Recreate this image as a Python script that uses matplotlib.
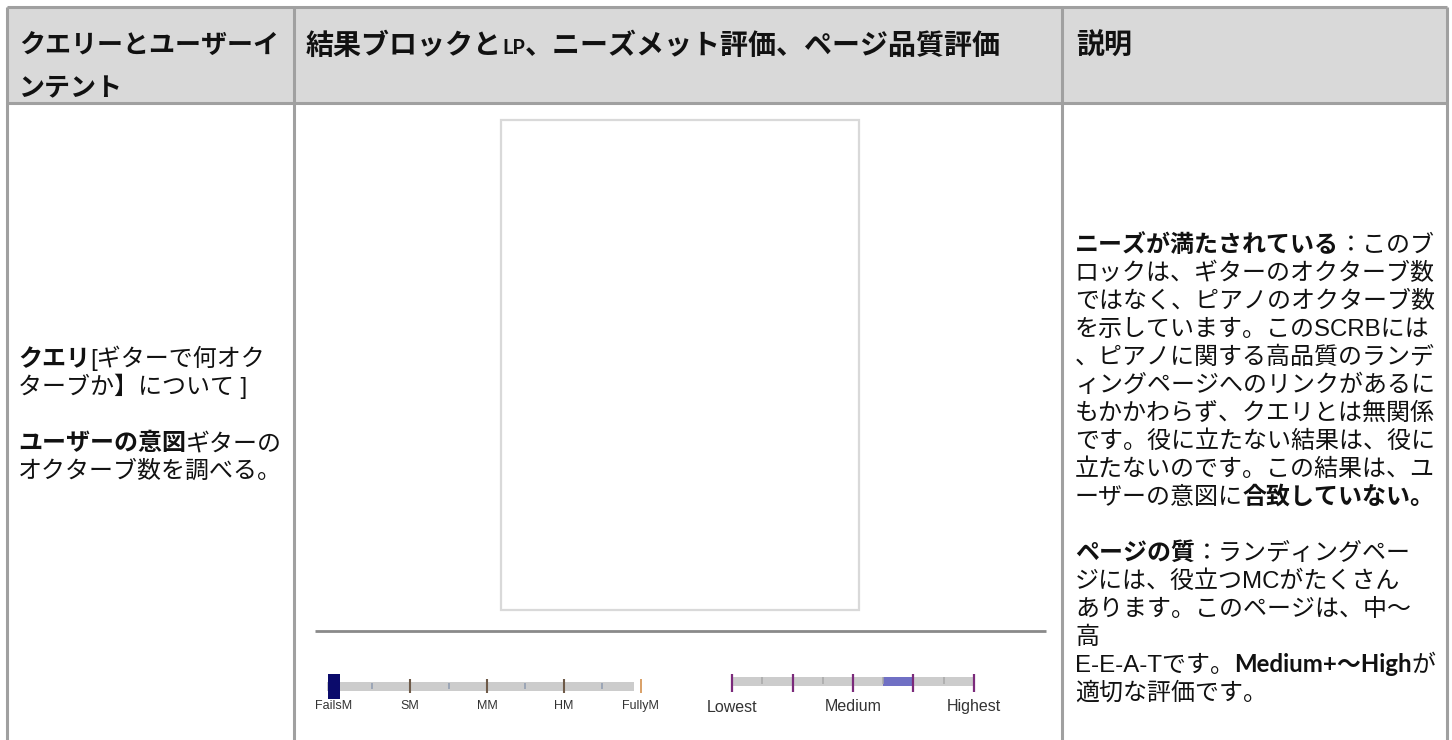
import matplotlib
matplotlib.use("Agg")
import matplotlib.pyplot as plt
from matplotlib.patches import Rectangle

W, H, DPI = 1452, 740, 100
PX = 72.0 / DPI  # points per pixel

# ---------------- data ----------------
header_col1 = ["クエリーとユーザーイ", "ンテント"]
header_col2 = [("結果ブロックと", "hb2"), ("LP", "hlp"), ("、ニーズメット評価、ページ品質評価", "hb2")]
header_col3 = "説明"

left_lines = [
    [("クエリ", "b"), ("[ギターで何オク", "n")],
    [("ターブか】について ]", "n")],
    None,
    [("ユーザーの意図", "b"), ("ギターの", "n")],
    [("オクターブ数を調べる。", "n")],
]

right_lines = [
    [("ニーズが満たされている", "b"), ("：このブ", "n")],
    [("ロックは、ギターのオクターブ数", "n")],
    [("ではなく、ピアノのオクターブ数", "n")],
    [("を示しています。このSCRBには", "n")],
    [("、ピアノに関する高品質のランデ", "n")],
    [("ィングページへのリンクがあるに", "n")],
    [("もかかわらず、クエリとは無関係", "n")],
    [("です。役に立たない結果は、役に", "n")],
    [("立たないのです。この結果は、ユ", "n")],
    [("ーザーの意図に", "n"), ("合致していない。", "b")],
    None,
    [("ページの質", "b"), ("：ランディングペー", "n")],
    [("ジには、役立つMCがたくさん", "n")],
    [("あります。このページは、中〜", "n")],
    [("高", "n")],
    [("E-E-A-Tです。", "n"), ("Medium+〜High", "lb"), ("が", "n")],
    [("適切な評価です。", "n")],
]

nm_labels = ["FailsM", "SM", "MM", "HM", "FullyM"]
nm_rating = 0.0
pq_labels = ["Lowest", "Medium", "Highest"]
pq_label_values = [0, 2, 4]
pq_range = [2.5, 3.0]

# ---------------- figure ----------------
fig = plt.figure(figsize=(W / DPI, H / DPI), dpi=DPI)
fig.patch.set_facecolor("white")
ax = fig.add_axes([0, 0, 1, 1])
ax.set_xlim(0, W)
ax.set_ylim(H, 0)
ax.axis("off")
renderer = fig.canvas.get_renderer()

BODY_PX = 24
JP = "Noto Sans CJK JP"
styles = {
    "n": dict(family=["Liberation Sans", JP], weight="normal", size=BODY_PX * PX),
    "b": dict(family=["Liberation Sans", JP], weight="bold", size=BODY_PX * PX),
    "lb": dict(family=["Lato", JP], weight="bold", size=BODY_PX * PX),
    "hb": dict(family=[JP], weight="bold", size=26 * PX),
    "hb2": dict(family=[JP], weight="bold", size=28 * PX),
    "hlp": dict(family=["Lato", JP], weight="bold", size=20 * PX),
}


def draw_runs(x, y, runs):
    for txt, st in runs:
        kw = styles[st]
        t = ax.text(x, y, txt, ha="left", va="baseline", color="#111111",
                    fontfamily=kw["family"], fontweight=kw["weight"],
                    fontsize=kw["size"], zorder=5)
        bb = t.get_window_extent(renderer=renderer)
        x += bb.width
    return x


# table background & borders
LEFT, RIGHT, TOP, HEAD_BOT = 7, 1447, 7, 103
COL1, COL2 = 294, 1062
BORDER = "#a0a0a0"
ax.add_patch(Rectangle((LEFT, TOP), RIGHT - LEFT, HEAD_BOT - TOP,
                       facecolor="#d9d9d9", edgecolor="none", zorder=1))
for xv in (LEFT, COL1, COL2, RIGHT):
    ax.plot([xv, xv], [TOP, H + 5], color=BORDER, lw=2.2, zorder=2,
            solid_capstyle="butt")
for yv in (TOP, HEAD_BOT):
    ax.plot([LEFT, RIGHT], [yv, yv], color=BORDER, lw=2.2, zorder=2,
            solid_capstyle="butt")

# header text
draw_runs(19, 44 + 10, [(header_col1[0], "hb")])
draw_runs(19, 86 + 10, [(header_col1[1], "hb")])
draw_runs(306, 44 + 10, header_col2)
draw_runs(1076, 44 + 10, [(header_col3, "hb2")])

# left column
for i, runs in enumerate(left_lines):
    if runs:
        draw_runs(18, 357 + 28 * i + 9, runs)

# right column
for i, runs in enumerate(right_lines):
    if runs:
        draw_runs(1075, 243 + 28 * i + 9, runs)

# result block placeholder and separator
ax.add_patch(Rectangle((501, 120), 358, 490, facecolor="white",
                       edgecolor="#d9d9d9", lw=1.6, zorder=3))
ax.plot([315, 1046], [631, 631], color="#8a8a8a", lw=2, zorder=3,
        solid_capstyle="butt")

# ---------------- Needs Met slider ----------------
nm_x0, nm_x1 = 333.5, 640.5
nm_step = (nm_x1 - nm_x0) / 4
axn = fig.add_axes([nm_x0 / W, 1 - 725 / H, (nm_x1 - nm_x0) / W, 65 / H])
axn.set_xlim(0, 4)
axn.set_ylim(725, 660)
axn.axis("off")
axn.barh(686.5, 4.0, left=-6.5 / nm_step, height=9, color="#cccccc",
         zorder=1, clip_on=False)
axn.vlines([0.5, 1.5, 2.5, 3.5], 683, 689, color="#8e9bb0", lw=1.1,
           zorder=2, clip_on=False)
axn.vlines([1, 2, 3], 679, 693, color="#6e5a48", lw=1.5, zorder=2, clip_on=False)
axn.vlines([4], 679, 693, color="#d9a066", lw=1.4, zorder=2, clip_on=False)
axn.bar([nm_rating], 25, width=12 / nm_step, bottom=674, color="#0b0b6b",
        zorder=3, clip_on=False)
for i, lab in enumerate(nm_labels):
    axn.text(i, 706, lab, ha="center", va="center", fontsize=12.5 * PX,
             family="Liberation Sans", color="#333333", clip_on=False)

# ---------------- Page Quality slider ----------------
pq_x0, pq_x1 = 732, 974
axp = fig.add_axes([pq_x0 / W, 1 - 725 / H, (pq_x1 - pq_x0) / W, 65 / H])
axp.set_xlim(0, 4)
axp.set_ylim(725, 660)
axp.axis("off")
axp.barh(681.5, 4.0, left=0, height=9, color="#cccccc", zorder=1, clip_on=False)
axp.barh(681.5, pq_range[1] - pq_range[0], left=pq_range[0], height=9,
         color="#7070c4", zorder=2, clip_on=False)
axp.vlines([0.5, 1.5, 2.5, 3.5], 677, 684, color="#a8a8a8", lw=1.1,
           zorder=3, clip_on=False)
axp.vlines([0, 1, 2, 3, 4], 674, 692, color="#7b2a7b", lw=1.6, zorder=4,
           clip_on=False)
for v, lab in zip(pq_label_values, pq_labels):
    axp.text(v, 708 if v == 0 else 707, lab, ha="center", va="center",
             fontsize=16 * PX, family="Liberation Sans", color="#333333",
             clip_on=False)

fig.savefig("out.png", dpi=DPI, facecolor="white")
